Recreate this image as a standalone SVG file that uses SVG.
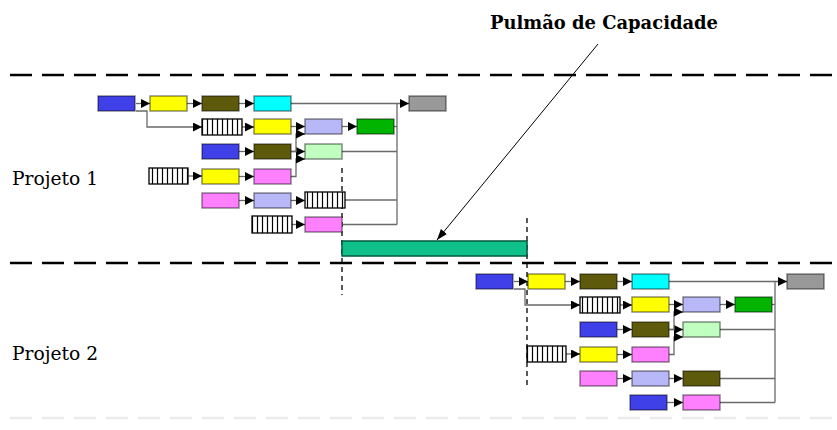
<svg xmlns="http://www.w3.org/2000/svg" width="837" height="430" viewBox="0 0 837 430">
<defs>
<style>
.bx{stroke:#000;stroke-opacity:0.45;stroke-width:1.5}
.blue{fill:#4040e8}.yel{fill:#ffff00}.oli{fill:#5e5a0c}.cya{fill:#00ffff}.gry{fill:#999999}
.lav{fill:#b8b8f8}.grn{fill:#00b400}.lgr{fill:#c0ffc0}.pnk{fill:#ff80ff}
.hat{fill:url(#hatch);stroke:#000;stroke-width:1.3}
.c{fill:none;stroke:#6a6a6a;stroke-width:1.3}
.a{marker-end:url(#ah)}
.hd{stroke:#000;stroke-width:2.6;stroke-dasharray:22 10;fill:none}
.vd{stroke:#000;stroke-width:1.3;stroke-dasharray:5 4;fill:none}
.t{fill:#000;font-family:"DejaVu Serif","Liberation Serif",serif}
</style>
<pattern id="hatch" patternUnits="userSpaceOnUse" width="5" height="20">
<rect width="5" height="20" fill="#fff"/>
<line x1="2.5" y1="0" x2="2.5" y2="20" stroke="#000" stroke-width="1.2"/>
</pattern>
<marker id="ah" markerUnits="userSpaceOnUse" markerWidth="10" markerHeight="10" refX="9" refY="4.5" orient="auto">
<path d="M0,0 L9,4.5 L0,9 z" fill="#000"/>
</marker>
<marker id="ah2" markerUnits="userSpaceOnUse" markerWidth="12" markerHeight="10" refX="11" refY="4" orient="auto">
<path d="M0,0 L11,4 L0,8 z" fill="#000"/>
</marker>
</defs>
<rect width="837" height="430" fill="#fff"/>

<g id="separators">
<line class="hd" x1="10" y1="75" x2="837" y2="75"/>
<line class="hd" x1="10" y1="263" x2="837" y2="263"/>
<line x1="10" y1="418" x2="837" y2="418" stroke="#ececec" stroke-width="2.5" stroke-dasharray="22 10"/>
<line class="vd" x1="342" y1="168" x2="342" y2="295"/>
<line class="vd" x1="527" y1="218" x2="527" y2="385"/>
</g>

<g id="labels">
<text class="t" x="490" y="29" font-size="18" font-weight="700" textLength="228" lengthAdjust="spacingAndGlyphs">Pulmão de Capacidade</text>
<text class="t" x="12" y="185" font-size="18" textLength="86" lengthAdjust="spacingAndGlyphs">Projeto 1</text>
<text class="t" x="12" y="360" font-size="18" textLength="86" lengthAdjust="spacingAndGlyphs">Projeto 2</text>
</g>

<g id="connectors">
<g id="p1-connectors">
<path class="c a" d="M136,103.5 H150"/>
<path class="c a" d="M187,103.5 H202"/>
<path class="c a" d="M239,103.5 H254"/>
<path class="c a" d="M291,103.5 H409"/>
<path class="c" d="M397,103.5 V224.5"/>
<path class="c a" d="M136,111 H147 V127 H202"/>
<path class="c a" d="M242,127 H254"/>
<path class="c a" d="M291,126.5 H305"/>
<path class="c a" d="M342,126.5 H357"/>
<path class="c" d="M394,126.5 H397"/>
<path class="c a" d="M239,151.5 H254"/>
<path class="c a" d="M291,151.5 H305"/>
<path class="c a" d="M291,151.5 H296 V134 H305"/>
<path class="c" d="M342,151.5 H397"/>
<path class="c a" d="M188,176 H202"/>
<path class="c a" d="M239,176.5 H254"/>
<path class="c a" d="M291,176.5 H296 V159 H305"/>
<path class="c a" d="M239,200.5 H254"/>
<path class="c a" d="M291,200.5 H305"/>
<path class="c" d="M345,200 H397"/>
<path class="c a" d="M292,224.5 H305"/>
<path class="c" d="M342,224.5 H397"/>
</g>
<g id="p2-connectors" transform="translate(378,178)">
<path class="c a" d="M136,103.5 H150"/>
<path class="c a" d="M187,103.5 H202"/>
<path class="c a" d="M239,103.5 H254"/>
<path class="c a" d="M291,103.5 H409"/>
<path class="c" d="M397,103.5 V224.5"/>
<path class="c a" d="M136,111 H147 V127 H202"/>
<path class="c a" d="M242,127 H254"/>
<path class="c a" d="M291,126.5 H305"/>
<path class="c a" d="M342,126.5 H357"/>
<path class="c" d="M394,126.5 H397"/>
<path class="c a" d="M239,151.5 H254"/>
<path class="c a" d="M291,151.5 H305"/>
<path class="c a" d="M291,151.5 H296 V134 H305"/>
<path class="c" d="M342,151.5 H397"/>
<path class="c a" d="M188,176 H202"/>
<path class="c a" d="M239,176.5 H254"/>
<path class="c a" d="M291,176.5 H296 V159 H305"/>
<path class="c a" d="M239,200.5 H254"/>
<path class="c a" d="M291,200.5 H305"/>
<path class="c" d="M342,200.5 H397"/>
<path class="c a" d="M289,224.5 H305"/>
<path class="c" d="M342,224.5 H397"/>
</g>
<line x1="598" y1="44" x2="437" y2="240" stroke="#000" stroke-width="1" marker-end="url(#ah2)"/>
</g>

<g id="buffer">
<rect x="342" y="241" width="185" height="15" fill="#10c08a" stroke="#005a3c" stroke-width="1.5"/>
</g>

<g id="projeto1">
<g id="p1-n1"><rect class="bx blue" x="98" y="96" width="37" height="15"/></g>
<g id="p1-n2"><rect class="bx yel" x="150" y="96" width="37" height="15"/></g>
<g id="p1-n3"><rect class="bx oli" x="202" y="96" width="37" height="15"/></g>
<g id="p1-n4"><rect class="bx cya" x="254" y="96" width="37" height="15"/></g>
<g id="p1-n5"><rect class="bx gry" x="409" y="96" width="37" height="15"/></g>
<g id="p1-n6"><rect class="hat" x="202" y="119" width="40" height="16"/></g>
<g id="p1-n7"><rect class="bx yel" x="254" y="119" width="37" height="15"/></g>
<g id="p1-n8"><rect class="bx lav" x="305" y="119" width="37" height="15"/></g>
<g id="p1-n9"><rect class="bx grn" x="357" y="119" width="37" height="15"/></g>
<g id="p1-n10"><rect class="bx blue" x="202" y="144" width="37" height="15"/></g>
<g id="p1-n11"><rect class="bx oli" x="254" y="144" width="37" height="15"/></g>
<g id="p1-n12"><rect class="bx lgr" x="305" y="144" width="37" height="15"/></g>
<g id="p1-n13"><rect class="hat" x="149" y="168" width="39" height="16"/></g>
<g id="p1-n14"><rect class="bx yel" x="202" y="169" width="37" height="15"/></g>
<g id="p1-n15"><rect class="bx pnk" x="254" y="169" width="37" height="15"/></g>
<g id="p1-n16"><rect class="bx pnk" x="202" y="193" width="37" height="15"/></g>
<g id="p1-n17"><rect class="bx lav" x="254" y="193" width="37" height="15"/></g>
<g id="p1-n18"><rect class="hat" x="305" y="192" width="40" height="16"/></g>
<g id="p1-n19"><rect class="hat" x="252" y="216" width="40" height="17"/></g>
<g id="p1-n20"><rect class="bx pnk" x="305" y="217" width="37" height="15"/></g>
</g>

<g id="projeto2">
<g id="p2-n1"><rect class="bx blue" x="476" y="274" width="37" height="15"/></g>
<g id="p2-n2"><rect class="bx yel" x="528" y="274" width="37" height="15"/></g>
<g id="p2-n3"><rect class="bx oli" x="580" y="274" width="37" height="15"/></g>
<g id="p2-n4"><rect class="bx cya" x="632" y="274" width="37" height="15"/></g>
<g id="p2-n5"><rect class="bx gry" x="787" y="274" width="37" height="15"/></g>
<g id="p2-n6"><rect class="hat" x="580" y="297" width="40" height="16"/></g>
<g id="p2-n7"><rect class="bx yel" x="632" y="297" width="37" height="15"/></g>
<g id="p2-n8"><rect class="bx lav" x="683" y="297" width="37" height="15"/></g>
<g id="p2-n9"><rect class="bx grn" x="735" y="297" width="37" height="15"/></g>
<g id="p2-n10"><rect class="bx blue" x="580" y="322" width="37" height="15"/></g>
<g id="p2-n11"><rect class="bx oli" x="632" y="322" width="37" height="15"/></g>
<g id="p2-n12"><rect class="bx lgr" x="683" y="322" width="37" height="15"/></g>
<g id="p2-n13"><rect class="hat" x="527" y="346" width="39" height="16"/></g>
<g id="p2-n14"><rect class="bx yel" x="580" y="347" width="37" height="15"/></g>
<g id="p2-n15"><rect class="bx pnk" x="632" y="347" width="37" height="15"/></g>
<g id="p2-n16"><rect class="bx pnk" x="580" y="371" width="37" height="15"/></g>
<g id="p2-n17"><rect class="bx lav" x="632" y="371" width="37" height="15"/></g>
<g id="p2-n18"><rect class="bx oli" x="683" y="371" width="37" height="15"/></g>
<g id="p2-n19"><rect class="bx blue" x="630" y="395" width="37" height="15"/></g>
<g id="p2-n20"><rect class="bx pnk" x="683" y="395" width="37" height="15"/></g>
</g>
</svg>
